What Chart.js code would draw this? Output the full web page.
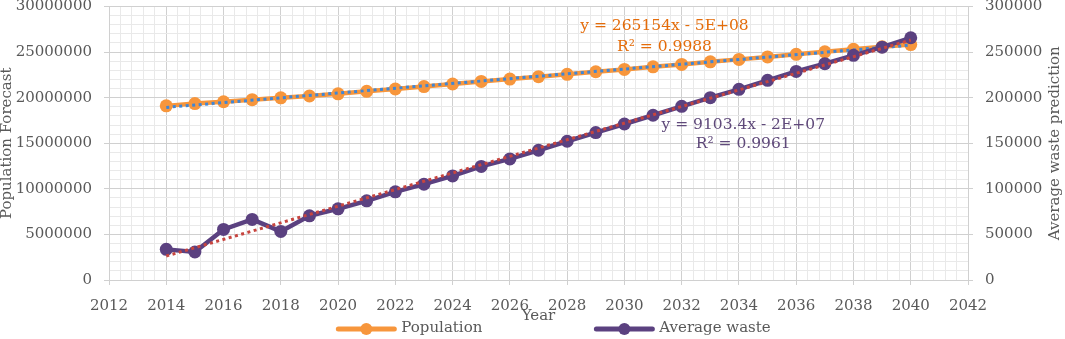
<!DOCTYPE html>
<html><head><meta charset="utf-8">
<script src="https://cdn.jsdelivr.net/npm/chart.js@4.4.0/dist/chart.umd.min.js"></script>
<style>html,body{margin:0;padding:0;background:#fff}#wrap{width:1065px;height:339px}</style>
</head><body><div id="wrap"><canvas id="c" width="1065" height="339"></canvas></div>
<script>
const years = [2014,2015,2016,2017,2018,2019,2020,2021,2022,2023,2024,2025,2026,2027,2028,2029,2030,2031,2032,2033,2034,2035,2036,2037,2038,2039,2040];
const population = [19100000,19350000,19550000,19780000,19980000,20180000,20420000,20700000,20950000,21220000,21500000,21780000,22040000,22300000,22560000,22840000,23100000,23380000,23650000,23930000,24200000,24470000,24750000,25030000,25300000,25580000,25820000];
const averageWaste = [33600,30700,55500,66400,53300,70400,78100,86800,96700,105100,114200,124600,132800,142300,152200,161700,171100,180700,190500,200000,209100,219000,228800,237300,246400,255400,265700];
const seriesNames = ['Population','Average waste'];
const popEquation = ['y = 265154x - 5E+08','R\u00B2 = 0.9988'];
const wasteEquation = ['y = 9103.4x - 2E+07','R\u00B2 = 0.9961'];
const axisTitles = {x:'Year', left:'Population Forecast', right:'Average waste prediction'};

const FONT = "'DejaVu Serif', serif";
const TXT = '#595959';
const MAJOR = '#D0D0D0', MINOR = '#E9E9E9';
const ORANGE = '#F7963C', PURPLE = '#5B4180', BLUE = '#3F86D6', RED = '#C7453F';

function linFit(xs, ys){
  const n = xs.length; let sx=0, sy=0, sxx=0, sxy=0;
  for(let i=0;i<n;i++){sx+=xs[i];sy+=ys[i];sxx+=xs[i]*xs[i];sxy+=xs[i]*ys[i];}
  const b = (n*sxy - sx*sy)/(n*sxx - sx*sx); const a = (sy - b*sx)/n;
  return x => a + b*x;
}
const popFit = linFit(years, population);
const wasteFit = linFit(years, averageWaste);
const ends = [years[0], years[years.length-1]];

const isMajorX = v => Math.abs(v/2 - Math.round(v/2)) < 1e-6;
const isMajorY = v => Math.abs(v/5000000 - Math.round(v/5000000)) < 1e-6;

const extras = {
  id: 'extras',
  afterDraw(chart){
    const {ctx, chartArea, scales} = chart;
    ctx.save();
    ctx.font = '15px ' + FONT; ctx.fillStyle = TXT;
    ctx.textAlign = 'center'; ctx.textBaseline = 'middle';
    ctx.translate(chart.width - 10, (chartArea.top + chartArea.bottom)/2);
    ctx.rotate(-Math.PI/2);
    ctx.fillText(axisTitles.right, 0, 0);
    ctx.restore();

    ctx.save();
    ctx.font = '15.5px ' + FONT; ctx.textAlign = 'center'; ctx.textBaseline = 'middle';
    ctx.fillStyle = '#E46C0A';
    const px = scales.x.getPixelForValue(2031.4);
    ctx.fillText(popEquation[0], px, scales.y.getPixelForValue(27900000));
    ctx.fillText(popEquation[1], px, scales.y.getPixelForValue(25600000));
    ctx.fillStyle = '#5F497A';
    const wx = scales.x.getPixelForValue(2034.15);
    ctx.fillText(wasteEquation[0], wx, scales.y2.getPixelForValue(170500));
    ctx.fillText(wasteEquation[1], wx, scales.y2.getPixelForValue(149500));
    ctx.restore();

    ctx.save();
    ctx.font = '15px ' + FONT; ctx.textBaseline = 'middle'; ctx.textAlign = 'left';
    const symW = 60, gapT = 5, gapItems = 112;
    const w1 = ctx.measureText(seriesNames[0]).width, w2 = ctx.measureText(seriesNames[1]).width;
    const total = symW + gapT + w1 + gapItems + symW + gapT + w2;
    let x = (chartArea.left + chartArea.right)/2 + 15 - total/2;
    const ly = chart.height - 10;
    const drawItem = (color, text, w) => {
      ctx.strokeStyle = color; ctx.lineWidth = 5; ctx.lineCap = 'round';
      ctx.beginPath(); ctx.moveTo(x+2, ly); ctx.lineTo(x+symW-2, ly); ctx.stroke();
      ctx.fillStyle = color; ctx.beginPath(); ctx.arc(x+symW/2, ly, 6, 0, Math.PI*2); ctx.fill();
      ctx.fillStyle = TXT; ctx.fillText(text, x+symW+gapT, ly-1);
      x += symW + gapT + w + gapItems;
    };
    drawItem(ORANGE, seriesNames[0], w1);
    drawItem(PURPLE, seriesNames[1], w2);
    ctx.restore();
  }
};

new Chart(document.getElementById('c'), {
  type: 'line',
  data: {
    datasets: [
      { label: 'Linear (Average waste)', data: ends.map(x => ({x, y: wasteFit(x)})), yAxisID: 'y2',
        borderColor: RED, borderWidth: 3, borderDash: [3, 3.5], pointRadius: 0, fill: false },
      { label: seriesNames[1], data: years.map((x,i) => ({x, y: averageWaste[i]})), yAxisID: 'y2',
        borderColor: PURPLE, backgroundColor: PURPLE, borderWidth: 4.5, pointRadius: 6.5, pointBorderWidth: 0, fill: false },
      { label: 'Linear (Population)', data: ends.map(x => ({x, y: popFit(x)})), yAxisID: 'y',
        borderColor: BLUE, borderWidth: 3, borderDash: [3, 3.5], pointRadius: 0, fill: false },
      { label: seriesNames[0], data: years.map((x,i) => ({x, y: population[i]})), yAxisID: 'y',
        borderColor: ORANGE, backgroundColor: ORANGE, borderWidth: 4.5, pointRadius: 6.5, pointBorderWidth: 0, fill: false }
    ]
  },
  options: {
    responsive: false, animation: false, devicePixelRatio: 1,
    layout: { padding: { left: 0, right: 0, top: 0, bottom: 14 } },
    plugins: { legend: { display: false }, tooltip: { enabled: false } },
    scales: {
      x: {
        type: 'linear', position: 'bottom', min: 2012, max: 2042,
        ticks: { stepSize: 0.4, autoSkip: false, maxRotation: 0, padding: 12,
          callback: v => isMajorX(v) ? String(Math.round(v)) : '',
          font: { family: FONT, size: 15 }, color: TXT },
        grid: { color: c => isMajorX(c.tick.value) ? MAJOR : MINOR,
          tickColor: c => isMajorX(c.tick.value) ? MAJOR : 'rgba(0,0,0,0)', tickLength: 5, lineWidth: 1 },
        border: { color: MAJOR },
        title: { display: true, text: axisTitles.x, font: { family: FONT, size: 15 }, color: TXT, padding: 0 },
        afterFit: s => { s.height = 45; s.paddingLeft = 0; s.paddingRight = 0; }
      },
      y: {
        type: 'linear', position: 'left', min: 0, max: 30000000,
        ticks: { stepSize: 1000000, autoSkip: false, padding: 12,
          callback: v => isMajorY(v) ? String(Math.round(v)) : '',
          font: { family: FONT, size: 15 }, color: TXT },
        grid: { color: c => isMajorY(c.tick.value) ? MAJOR : MINOR,
          tickColor: c => isMajorY(c.tick.value) ? MAJOR : 'rgba(0,0,0,0)', tickLength: 5, lineWidth: 1 },
        border: { color: MAJOR },
        title: { display: true, text: axisTitles.left, font: { family: FONT, size: 15 }, color: TXT, padding: { top: -2, bottom: 0 } },
        afterFit: s => { s.width = 109; s.paddingTop = 6; s.paddingBottom = 0; }
      },
      y2: {
        type: 'linear', position: 'right', min: 0, max: 300000,
        ticks: { stepSize: 50000, padding: 12, callback: v => String(v),
          font: { family: FONT, size: 15 }, color: TXT },
        grid: { drawOnChartArea: false, color: MAJOR, tickColor: MAJOR, tickLength: 5 },
        border: { color: MAJOR },
        afterFit: s => { s.width = 97; s.paddingTop = 6; s.paddingBottom = 0; }
      }
    }
  },
  plugins: [extras]
});
</script></body></html>
